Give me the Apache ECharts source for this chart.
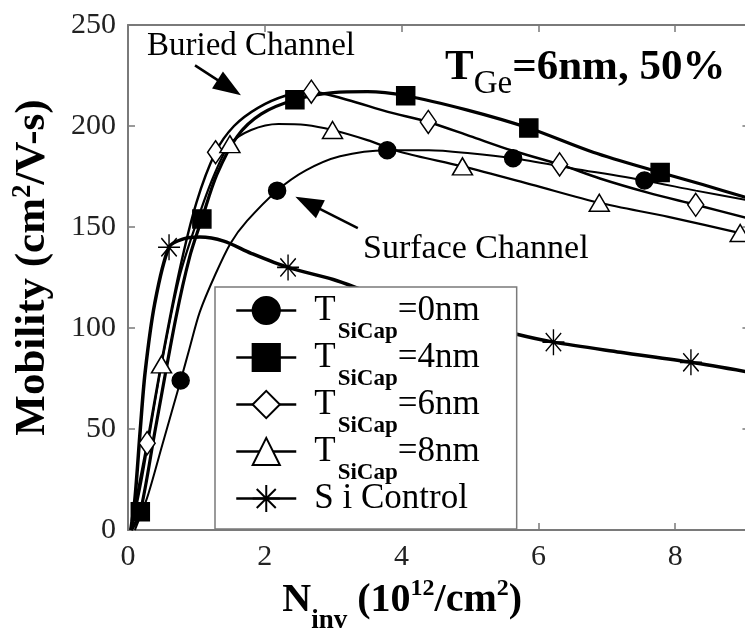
<!DOCTYPE html>
<html>
<head>
<meta charset="utf-8">
<script src="https://cdn.jsdelivr.net/npm/echarts@6/dist/echarts.min.js"></script>
<style>
  html, body { margin: 0; padding: 0; background: #ffffff; }
  #chart { width: 745px; height: 629px; }
</style>
</head>
<body>
<div id="chart"></div>
<script>
// Hole mobility vs. inversion charge for SiGe channels with different Si cap thickness
const SERIF = '"Liberation Serif", "Times New Roman", serif';

// Axis ticks: inversion density (10^12 /cm^2) and mobility (cm^2/V-s)
const densityTicks = [0, 2, 4, 6, 8];
const mobilityTicks = [0, 50, 100, 150, 200, 250];

// Series names and the legend text drawn for them
const seriesNames = ['0nm', '4nm', '6nm', '8nm', 'Si Control'];
const legendTexts = {
  '0nm': '{f|T}{s|SiCap}{t|=0nm}',
  '4nm': '{f|T}{s|SiCap}{t|=4nm}',
  '6nm': '{f|T}{s|SiCap}{t|=6nm}',
  '8nm': '{f|T}{s|SiCap}{t|=8nm}',
  'Si Control': '{f|S i Control}{s| }'
};

// Measured curves [Ninv, mobility]
const curve0nm = [[0.1,0],[0.28,16],[0.5,42],[0.77,74],[0.9,90],[1.05,108],[1.27,126],[1.5,142],[1.74,153],[2.18,168],[2.6,178],[3.1,185],[3.79,188],[4.4,188],[5.0,186.5],[5.63,184],[6.5,179],[7.55,173],[8.3,168],[9.1,163]];
const curve4nm = [[0.05,0],[0.18,9],[0.4,50],[0.7,105],[0.9,135],[1.08,154],[1.3,176],[1.6,195],[1.95,206],[2.44,213],[3.0,216.5],[3.5,217],[4.06,215],[4.95,208],[5.86,199],[6.8,187],[7.78,177],[8.4,171],[9.1,164]];
const curve6nm = [[0.04,0],[0.15,20],[0.28,43],[0.5,85],[0.75,128],[1.0,162],[1.28,187],[1.55,200],[1.9,209],[2.3,215],[2.68,217],[3.2,213],[3.8,207],[4.39,202],[5.0,195],[5.6,188],[6.31,181],[6.9,174],[7.6,167],[8.3,161],[9.1,154]];
const curve8nm = [[0.05,0],[0.2,25],[0.49,82],[0.75,125],[1.0,152],[1.25,175],[1.49,191],[1.8,198],[2.2,201],[2.6,200.5],[2.99,198],[3.5,193],[4.0,187],[4.89,180],[5.9,171],[6.89,162],[7.9,155],[8.95,147],[9.1,146]];
const curveSi  = [[0.04,0],[0.1,15],[0.18,50],[0.25,78],[0.39,112],[0.6,140],[0.8,144],[1.05,145],[1.4,143],[1.8,137],[2.34,130],[3.0,124],[3.5,118],[4.28,109],[4.9,104],[5.67,97],[6.22,93],[7.2,88],[8.23,83],[9.1,78]];

// Points carrying a marker on each curve
const marks0nm = [[0.77,74],[2.18,168],[3.79,188],[5.63,184],[7.55,173]];
const marks4nm = [[0.18,9],[1.08,154],[2.44,213],[4.06,215],[5.86,199],[7.78,177]];
const marks6nm = [[0.28,43],[1.28,187],[2.68,217],[4.39,202],[6.31,181],[8.3,161]];
const marks8nm = [[0.49,82],[1.49,191],[2.99,198],[4.89,180],[6.89,162],[8.95,147]];
const marksSi  = [[0.6,140],[2.34,130],[4.28,109],[6.22,93],[8.23,83]];

// Annotation arrows, tail -> head, in data units
const buriedArrow = [[0.98,230],[1.48,219]];
const surfaceArrow = [[3.36,149.5],[2.63,161.9]];

const STAR = 'path://M0,-10L0,10M-10,0L10,0M-7,-7L7,7M-7,7L7,-7';
const AXIS_GRAY = '#7a7a7a';

const styles = {
  '0nm': { symbol: 'circle', size: 17, fill: '#000', width: 2 },
  '4nm': { symbol: 'rect', size: 18, fill: '#000', width: 3.2 },
  '6nm': { symbol: 'diamond', size: [16, 23], fill: '#fff', width: 2.5 },
  '8nm': { symbol: 'triangle', size: [20, 17], fill: '#fff', width: 2.2 },
  'Si Control': { symbol: STAR, size: [22, 26], fill: '#000', width: 3.5 }
};
const curves = { '0nm': curve0nm, '4nm': curve4nm, '6nm': curve6nm, '8nm': curve8nm, 'Si Control': curveSi };
const marks = { '0nm': marks0nm, '4nm': marks4nm, '6nm': marks6nm, '8nm': marks8nm, 'Si Control': marksSi };

const series = [];
seriesNames.forEach(function (name) {
  const st = styles[name];
  const itemStyle = { color: st.fill, borderColor: '#000', borderWidth: 1.5 };
  series.push({
    type: 'line', name: name, data: curves[name], smooth: 0.3,
    showSymbol: false, symbol: st.symbol, symbolSize: st.size,
    lineStyle: { color: '#000', width: st.width },
    itemStyle: itemStyle, z: 2, silent: true
  });
});
seriesNames.forEach(function (name) {
  const st = styles[name];
  series.push({
    type: 'scatter', name: name, data: marks[name],
    symbol: st.symbol, symbolSize: st.size,
    itemStyle: { color: st.fill, borderColor: '#000', borderWidth: 1.5, opacity: 1 },
    z: 3, silent: true
  });
});
series.push({
  type: 'line', name: 'arrows', data: [], silent: true,
  markLine: {
    silent: true, animation: false,
    symbol: ['none', 'triangle'], symbolSize: [20, 28],
    lineStyle: { color: '#000', width: 2.5, type: 'solid' },
    label: { show: false },
    data: [
      [{ coord: buriedArrow[0] }, { coord: buriedArrow[1] }],
      [{ coord: surfaceArrow[0] }, { coord: surfaceArrow[1] }]
    ]
  }
});

const axisLine = { show: true, onZero: false, lineStyle: { color: AXIS_GRAY, width: 2 } };
const tickStyle = { color: AXIS_GRAY, width: 1.5 };
const labelFont = { fontFamily: SERIF, fontSize: 30, color: '#222' };

const option = {
  animation: false,
  backgroundColor: '#ffffff',
  grid: { left: 128, top: 25, width: 9.1 * 68.4, height: 505, outerBoundsMode: 'none', containLabel: false },
  xAxis: [
    {
      type: 'value', min: 0, max: 9.1, position: 'bottom',
      axisLine: axisLine,
      axisTick: { inside: true, length: 7, lineStyle: tickStyle, customValues: densityTicks },
      axisLabel: Object.assign({ margin: 12, customValues: densityTicks }, labelFont),
      splitLine: { show: false },
      name: '{n|N}{sub|inv}{n| (10}{sup|12}{n|/cm}{sup|2}{n|)}',
      nameLocation: 'middle', nameGap: 51, nameMoveOverlap: false,
      nameTextStyle: {
        padding: [0, 74, 0, 0],
        rich: {
          n: { fontFamily: SERIF, fontSize: 40, fontWeight: 'bold', lineHeight: 40, color: '#000' },
          sub: { fontFamily: SERIF, fontSize: 27, fontWeight: 'bold', lineHeight: 27, padding: [40, 0, 0, 0], color: '#000' },
          sup: { fontFamily: SERIF, fontSize: 24, fontWeight: 'bold', lineHeight: 24, padding: [0, 0, 24, 0], color: '#000' }
        }
      }
    },
    {
      type: 'value', min: 0, max: 9.1, position: 'top',
      axisLine: axisLine,
      axisTick: { inside: true, length: 7, lineStyle: tickStyle, customValues: densityTicks },
      axisLabel: { show: false },
      splitLine: { show: false }
    }
  ],
  yAxis: [
    {
      type: 'value', min: 0, max: 250, interval: mobilityTicks[1] - mobilityTicks[0], position: 'left',
      axisLine: axisLine,
      axisTick: { inside: true, length: 7, lineStyle: tickStyle },
      axisLabel: Object.assign({ margin: 12 }, labelFont),
      splitLine: { show: false },
      name: '{n|Mobility (cm}{sup|2}{n|/V-s)}',
      nameLocation: 'middle', nameGap: 74, nameRotate: 90, nameMoveOverlap: false,
      nameTextStyle: {
        padding: [0, 0, 0, 20],
        rich: {
          n: { fontFamily: SERIF, fontSize: 43, fontWeight: 'bold', lineHeight: 43, color: '#000' },
          sup: { fontFamily: SERIF, fontSize: 27, fontWeight: 'bold', lineHeight: 27, padding: [0, 0, 18, 0], color: '#000' }
        }
      }
    },
    {
      type: 'value', min: 0, max: 250, interval: mobilityTicks[1] - mobilityTicks[0], position: 'right',
      axisLine: axisLine,
      axisTick: { inside: true, length: 8, lineStyle: tickStyle },
      axisLabel: { show: false },
      splitLine: { show: false }
    }
  ],
  legend: {
    data: seriesNames,
    orient: 'vertical', left: 215, top: 287,
    itemWidth: 60, itemHeight: 34, itemGap: -20,
    padding: [-10, 37, -3, 20],
    backgroundColor: '#ffffff', borderColor: AXIS_GRAY, borderWidth: 1.5,
    z: 5, selectedMode: false,
    lineStyle: { width: 2.5 },
    formatter: function (name) { return legendTexts[name]; },
    textStyle: {
      color: '#000',
      rich: {
        f: { fontFamily: SERIF, fontSize: 35, lineHeight: 35, padding: [0, 0, 0, 13], color: '#000' },
        t: { fontFamily: SERIF, fontSize: 35, lineHeight: 35, color: '#000' },
        s: { fontFamily: SERIF, fontSize: 23, fontWeight: 'bold', lineHeight: 23, padding: [44, 0, 0, 2], color: '#000' }
      }
    }
  },
  graphic: [
    {
      type: 'text', x: 147, y: 46, silent: true,
      style: { text: 'Buried Channel', fontFamily: SERIF, fontSize: 33, fill: '#000', align: 'left', verticalAlign: 'middle' }
    },
    {
      type: 'text', x: 363, y: 249, silent: true,
      style: { text: 'Surface Channel', fontFamily: SERIF, fontSize: 34, fill: '#000', align: 'left', verticalAlign: 'middle' }
    },
    {
      type: 'text', x: 445, y: 68, silent: true,
      style: {
        text: '{b|T}{g|Ge}{b|=6nm, 50%}', align: 'left', verticalAlign: 'middle',
        rich: {
          b: { fontFamily: SERIF, fontSize: 43, fontWeight: 'bold', lineHeight: 43, fill: '#000', color: '#000' },
          g: { fontFamily: SERIF, fontSize: 33, lineHeight: 33, padding: [32, 0, 0, 0], fill: '#000', color: '#000' }
        }
      }
    }
  ],
  series: series
};

const chart = echarts.init(document.getElementById('chart'), null, { renderer: 'canvas' });
chart.setOption(option);
</script>
</body>
</html>
